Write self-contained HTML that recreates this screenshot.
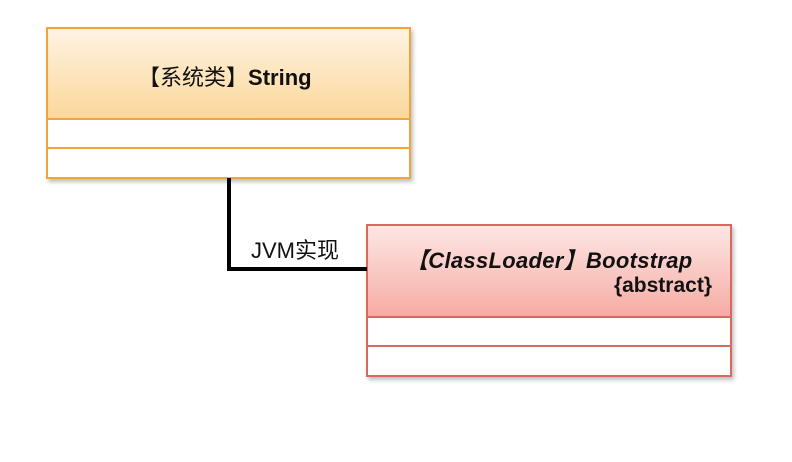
<!DOCTYPE html>
<html><head><meta charset="utf-8"><style>
html,body{margin:0;padding:0;background:#fff;width:792px;height:462px;overflow:hidden;position:relative;font-family:"Liberation Sans","Noto Sans CJK SC",sans-serif}
.box{position:absolute;box-shadow:2px 3px 4px rgba(0,0,0,0.25);box-sizing:border-box}
.row{position:absolute;left:0;right:0;background:#fff;box-sizing:border-box}
</style></head><body>
<div class="box" style="left:46px;top:27px;width:365px;height:152px;border:2px solid #f2a43a;background:#fff">
  <div style="position:absolute;left:0;right:0;top:0;height:89px;background:linear-gradient(#fef3e2,#fbd79a);border-bottom:2px solid #f2a43a;color:#111;font-size:22px">
    <div style="position:absolute;left:90px;top:31px;white-space:nowrap">【系统类】<b>String</b></div>
  </div>
  <div class="row" style="top:91px;height:29px;border-bottom:2px solid #f2a43a"></div>
</div>
<div class="box" style="left:366px;top:224px;width:366px;height:153px;border:2px solid #d9685e;background:#fff">
  <div style="position:absolute;left:0;right:0;top:0;height:90px;background:linear-gradient(#fde6e4,#f6aca4);border-bottom:2px solid #d9685e;color:#111;font-weight:bold;font-size:22px">
    <div style="position:absolute;left:38px;top:17px;font-style:italic;white-space:nowrap;letter-spacing:0.3px">【ClassLoader】Bootstrap</div>
    <div style="position:absolute;right:18px;top:48px;font-size:21px">{abstract}</div>
  </div>
  <div class="row" style="top:92px;height:29px;border-bottom:2px solid #d9685e"></div>
</div>
<div style="position:absolute;left:227px;top:178px;width:4px;height:93px;background:#000"></div>
<div style="position:absolute;left:227px;top:267px;width:140px;height:4px;background:#000"></div>
<div style="position:absolute;left:251px;top:233px;font-size:22px;color:#111;white-space:nowrap">JVM实现</div>
</body></html>
